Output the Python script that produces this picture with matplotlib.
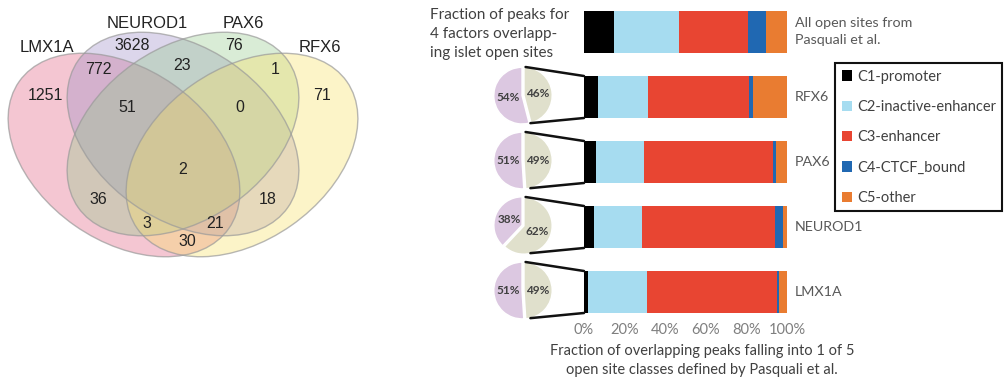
"""
Venn of peak overlaps for four islet TFs plus the open-site class breakdown
(Pasquali et al. classes) for each factor's overlapping peaks.
Output: out.png
"""
import matplotlib
matplotlib.use("Agg")
import matplotlib.pyplot as plt
from matplotlib.patches import Ellipse, ConnectionPatch

# ── Data ──────────────────────────────────────────────────────────────────────

VENN_SETS   = ["LMX1A", "NEUROD1", "PAX6", "RFX6"]
VENN_COLORS = ["#e25c7e", "#9b8ac6", "#92c98a", "#f9e062"]

# region -> count   (A=LMX1A, B=NEUROD1, C=PAX6, D=RFX6)
VENN_REGIONS = ["A", "B", "C", "D", "AB", "BC", "CD", "ABC", "BCD",
                "ABCD", "AC", "BD", "ACD", "ABD", "AD"]
VENN_COUNTS  = [1251, 3628, 76, 71, 772, 23, 1, 51, 0,
                2, 36, 18, 3, 21, 30]

ROWS    = ["All open sites from\nPasquali et al.", "RFX6", "PAX6", "NEUROD1", "LMX1A"]
CLASSES = ["C1-promoter", "C2-inactive-enhancer", "C3-enhancer", "C4-CTCF_bound", "C5-other"]
C1 = [14.7, 7.1, 5.8, 4.8, 2.0]
C2 = [32.3, 24.2, 23.7, 23.7, 28.8]
C3 = [33.6, 50.1, 63.7, 65.8, 64.4]
C4 = [9.2, 1.7, 1.6, 3.8, 1.0]
C5 = [10.2, 16.9, 5.2, 1.9, 3.8]
CLASS_COLORS = ["#000000", "#a6dcf0", "#e84532", "#2068b2", "#e97c31"]

PIE_FACTORS = ["RFX6", "PAX6", "NEUROD1", "LMX1A"]
PIE_LEFT    = [54, 51, 38, 51]     # purple wedge
PIE_RIGHT   = [46, 49, 62, 49]     # beige wedge
PIE_COLORS  = ["#e0e0cc", "#dcc8e1"]

# ── Layout (pixels of a 1008x381 canvas) ─────────────────────────────────────

W, H = 1008, 381
VENN_FONT = "Liberation Sans"
BAR_FONT  = "Lato"
GREY_TXT  = "#404040"

ELLIPSES = [  # centre x, centre y, angle
    (124, 155, 35), (183, 134, 35), (183, 134, -35), (242, 155, -35),
]
ELL_A, ELL_B = 128, 86
SET_LABEL_POS = [(47, 47), (147, 23), (243, 23), (320, 47)]
REGION_POS = {
    "A": (45, 95), "B": (132, 45), "C": (234, 45), "D": (322, 95),
    "AB": (98, 70), "BC": (182, 65), "CD": (275, 70),
    "ABC": (127, 108), "BCD": (240, 108), "ABCD": (183, 170),
    "AC": (98, 199), "BD": (268, 199), "ACD": (147, 223),
    "ABD": (215, 223), "AD": (187, 242),
}

fig = plt.figure(figsize=(W / 100, H / 100), dpi=100)

# ── Venn ──────────────────────────────────────────────────────────────────────

axv = fig.add_axes([0, 0, 360 / W, 1])
axv.set_xlim(0, 360)
axv.set_ylim(H, 0)
axv.axis("off")

for (cx, cy, ang), col in zip(ELLIPSES, VENN_COLORS):
    axv.add_patch(Ellipse((cx, cy), 2 * ELL_A, 2 * ELL_B, angle=ang,
                          facecolor=col, alpha=0.35, edgecolor="none"))
for (cx, cy, ang) in ELLIPSES:
    axv.add_patch(Ellipse((cx, cy), 2 * ELL_A, 2 * ELL_B, angle=ang,
                          facecolor="none", edgecolor="#9a9a9a", lw=1.0, alpha=0.7))

for name, (x, y) in zip(VENN_SETS, SET_LABEL_POS):
    axv.text(x, y, name, ha="center", va="center", fontsize=12,
             family=VENN_FONT, color="#222222")

for key, n in zip(VENN_REGIONS, VENN_COUNTS):
    x, y = REGION_POS[key]
    axv.text(x, y, str(n), ha="center", va="center", fontsize=11.5,
             family=VENN_FONT, color="#222222")

# ── Stacked bars ──────────────────────────────────────────────────────────────

ROW0, ROWSTEP = 32, 65          # px centre of first bar, spacing
Y_BOTTOM = 4.4
BAR_X0, BAR_W = 584, 203
bar_top_px = ROW0 - 0.5 * ROWSTEP
bar_bot_px = ROW0 + Y_BOTTOM * ROWSTEP
axb = fig.add_axes([BAR_X0 / W, 1 - bar_bot_px / H, BAR_W / W,
                    (bar_bot_px - bar_top_px) / H])

ypos = list(range(len(ROWS)))
left = [0.0] * len(ROWS)
BAR_H = 0.646
for cls, vals, col in zip(CLASSES, [C1, C2, C3, C4, C5], CLASS_COLORS):
    axb.barh(ypos, vals, left=left, height=BAR_H, color=col, label=cls,
             edgecolor="none")
    left = [l + v for l, v in zip(left, vals)]

axb.set_xlim(0, 100)
axb.set_ylim(Y_BOTTOM, -0.5)
for s in axb.spines.values():
    s.set_visible(False)
axb.set_yticks([])
axb.set_xticks([0, 20, 40, 60, 80, 100])
axb.set_xticklabels(["0%", "20%", "40%", "60%", "80%", "100%"])
axb.tick_params(axis="x", length=0, pad=3.5, labelsize=10.5, labelcolor="#7f7f7f")
for lab in axb.get_xticklabels():
    lab.set_family(BAR_FONT)

# row names to the right of the bars
label_x = (795 - BAR_X0) / BAR_W
for i, name in enumerate(ROWS):
    axb.text(label_x, i, name, transform=axb.get_yaxis_transform(), ha="left",
             va="center", fontsize=10.3, family=BAR_FONT, color="#595959",
             linespacing=1.5)

fig.text(430 / W, 1 - 8 / H,
         "Fraction of peaks for\n4 factors overlapp-\ning islet open sites",
         ha="left", va="top", fontsize=11, family=BAR_FONT, color=GREY_TXT,
         linespacing=1.45)
fig.text(702 / W, 1 - 344 / H,
         "Fraction of overlapping peaks falling into 1 of 5\n"
         "open site classes defined by Pasquali et al.",
         ha="center", va="top", fontsize=10.5, family=BAR_FONT, color=GREY_TXT,
         linespacing=1.45)

leg = fig.legend(loc="upper left", bbox_to_anchor=(835 / W, 1 - 63 / H),
                 frameon=True, fancybox=False, framealpha=1,
                 edgecolor="#111111", handlelength=0.7, handleheight=0.7,
                 handletextpad=0.35, labelspacing=1.12, borderpad=0.45,
                 borderaxespad=0,
                 prop={"family": BAR_FONT, "size": 10.5})
leg.get_frame().set_linewidth(1.5)
for t in leg.get_texts():
    t.set_color(GREY_TXT)

# ── Pies + connectors ────────────────────────────────────────────────────────

PIE_CX, PIE_R = 523, 28.5
LIM = 1.1
side = 2 * LIM * PIE_R
for fac, lp, rp in zip(PIE_FACTORS, PIE_LEFT, PIE_RIGHT):
    row = ROWS.index(fac)
    cy = ROW0 + row * ROWSTEP - 1.5
    axp = fig.add_axes([(PIE_CX - side / 2) / W, 1 - (cy + side / 2) / H,
                        side / W, side / H])
    axp.pie([rp, lp], colors=PIE_COLORS, startangle=90,
            counterclock=False, explode=(0.03, 0.03),
            autopct="%.0f%%", pctdistance=0.5,
            wedgeprops=dict(edgecolor="white", linewidth=1.2),
            textprops=dict(fontsize=8.5, family=BAR_FONT,
                           color="#404040", fontweight="bold"))
    axp.set_xlim(-LIM, LIM)
    axp.set_ylim(-LIM, LIM)

    # zoom lines: pie rim -> bar's left corners
    for (px, py), dy in [((0.09, 1.0), -BAR_H / 2), ((0.26, -0.97), BAR_H / 2)]:
        con = ConnectionPatch(xyA=(px, py), coordsA=axp.transData,
                              xyB=(0, row + dy), coordsB=axb.transData,
                              color="#111111", lw=1.8)
        fig.add_artist(con)

fig.savefig("out.png", dpi=100, facecolor="white")
